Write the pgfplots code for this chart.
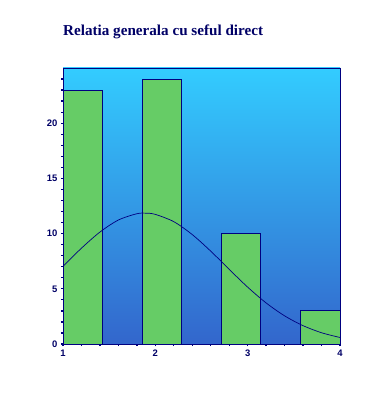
\documentclass[border=0pt]{standalone}
\usepackage{pgfplots}
\pgfplotsset{compat=1.18}
\usepackage{fontspec}
\setmainfont{Liberation Sans}
\newfontfamily\titlefont{Liberation Serif}
\definecolor{navy}{HTML}{000080}
\definecolor{titlenavy}{HTML}{000066}
\definecolor{bgtop}{HTML}{33CCFF}
\definecolor{bgbot}{HTML}{3366CC}
\definecolor{bargreen}{HTML}{66CC66}
\begin{document}
\begin{tikzpicture}[x=1bp,y=1bp]
\useasboundingbox (0,0) rectangle (385,408);
\node[anchor=base west, text=titlenavy, font=\titlefont\bfseries\fontsize{15.2}{17}\selectfont, inner sep=0pt] at (63,373) {Relatia generala cu seful direct};
\begin{axis}[
  at={(63bp,64bp)}, anchor=origin,
  scale only axis, width=277bp, height=276bp,
  xmin=1, xmax=4, ymin=0, ymax=25,
  xtick={1,2,3,4}, minor xtick={1.2,1.4,...,3.9},
  ytick={0,5,10,15,20}, minor ytick={1,2,...,24},
  tick align=outside, major tick length=2bp, minor tick length=2bp,
  tick style={navy, line width=1.3bp},
  xtick pos=bottom, ytick pos=left,
  axis line style={navy, line width=0.8bp},
  /pgf/number format/assume math mode=true,
  tick label style={text=titlenavy, font=\bfseries\fontsize{9.5}{10}\selectfont},
  axis background/.style={top color=bgtop, bottom color=bgbot},
]
\addplot[ybar interval, fill=bargreen, draw=navy, line width=0.8bp] coordinates {(1,23) (1.42857,23)};
\addplot[ybar interval, fill=bargreen, draw=navy, line width=0.8bp] coordinates {(1.85714,24) (2.28571,24)};
\addplot[ybar interval, fill=bargreen, draw=navy, line width=0.8bp] coordinates {(2.71429,10) (3.14286,10)};
\addplot[ybar interval, fill=bargreen, draw=navy, line width=0.8bp] coordinates {(3.57143,3) (4,3)};
\addplot[navy, line width=0.7bp, smooth, no markers] coordinates {
(1.0,7.04) (1.2,8.68) (1.4,10.14) (1.6,11.23) (1.8,11.80) (1.9,11.85) (2.0,11.74)
(2.2,11.08) (2.4,9.91) (2.6,8.41) (2.8,6.76) (3.0,5.15) (3.2,3.72) (3.4,2.55)
(3.6,1.66) (3.8,1.02) (4.0,0.59)};
\end{axis}
\end{tikzpicture}
\end{document}
